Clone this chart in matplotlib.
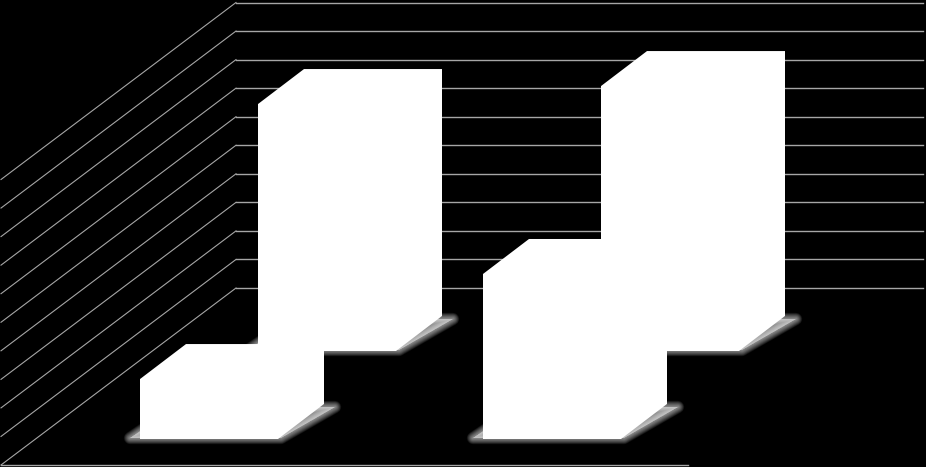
import matplotlib
matplotlib.use("Agg")
import matplotlib.pyplot as plt

# Values, in gridline units
categories = ['A', 'B']
front_values = [2.1, 5.78]
back_values = [8.65, 9.28]
grid_values = list(range(11))

# Chart frame in pixels
PX_PER_UNIT = 28.55
WALL_BOTTOM = 288
WALL_LEFT = 236
WALL_RIGHT = 923
DEPTH_X = -235
DEPTH_Y = 177

CAT_STEP = 343
BAR_WIDTH = 138
BAR_DEPTH_X = 46
BAR_DEPTH_Y = -35
FRONT_LEFT = 140
FRONT_BASE = 439
BACK_LEFT = 258
BACK_BASE = 351

GRID_COLOR = '#a6a6a6'


def draw_shadow(ax, left, base):
    right = left + BAR_WIDTH
    xs = [left - 10, right + 3, right + BAR_DEPTH_X + 11, left + BAR_DEPTH_X - 10]
    ys = [base - 1, base - 1, base + BAR_DEPTH_Y + 3, base + BAR_DEPTH_Y + 3]
    layers = 14
    for i in range(layers):
        width = 9 * (1 - i / layers)
        ax.fill(xs, ys, facecolor='white', edgecolor='white', alpha=0.055,
                linewidth=width, joinstyle='round', zorder=2)


def draw_bar(ax, left, base, value):
    # outline of the whole block, the three faces are all plain white
    right = left + BAR_WIDTH
    top = base - value * PX_PER_UNIT
    dx, dy = BAR_DEPTH_X, BAR_DEPTH_Y
    xs = [left, right, right + dx, right + dx, left + dx, left]
    ys = [base, base, base + dy, top + dy, top + dy, top]
    ax.fill(xs, ys, color='white', lw=0, zorder=3)


fig = plt.figure(figsize=(9.26, 4.67), dpi=100, facecolor='black')
ax = fig.add_axes([0, 0, 1, 1])
ax.set_xlim(0, 926)
ax.set_ylim(467, 0)
ax.set_facecolor('black')
ax.axis('off')

# Back wall and left wall gridlines
for v in grid_values:
    y = WALL_BOTTOM - v * PX_PER_UNIT
    ax.plot([WALL_LEFT, WALL_RIGHT], [y, y], color=GRID_COLOR, lw=1.0, zorder=1)
    ax.plot([WALL_LEFT, WALL_LEFT + DEPTH_X], [y, y + DEPTH_Y], color=GRID_COLOR, lw=0.8, zorder=1)

# Floor front edge
ax.plot([WALL_LEFT + DEPTH_X, WALL_RIGHT + DEPTH_X], [WALL_BOTTOM + DEPTH_Y] * 2,
        color=GRID_COLOR, lw=1.0, zorder=1)

# Back series first so the front series sits over it
for i, value in enumerate(back_values):
    draw_shadow(ax, BACK_LEFT + i * CAT_STEP, BACK_BASE)
    draw_bar(ax, BACK_LEFT + i * CAT_STEP, BACK_BASE, value)

for i, value in enumerate(front_values):
    draw_shadow(ax, FRONT_LEFT + i * CAT_STEP, FRONT_BASE)
    draw_bar(ax, FRONT_LEFT + i * CAT_STEP, FRONT_BASE, value)

fig.savefig('out.png', dpi=100, facecolor='black')
